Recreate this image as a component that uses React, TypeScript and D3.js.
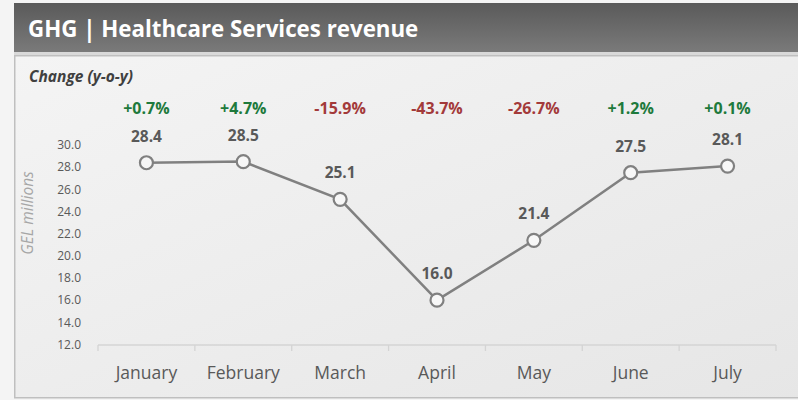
import * as d3 from 'd3';

const months = ['January', 'February', 'March', 'April', 'May', 'June', 'July'];
const revenue = [28.4, 28.5, 25.1, 16.0, 21.4, 27.5, 28.1];
const yoyChange = [0.7, 4.7, -15.9, -43.7, -26.7, 1.2, 0.1];
const yTicks = [12, 14, 16, 18, 20, 22, 24, 26, 28, 30];

const W = 798;
const H = 400;
const font = "'Segoe UI', 'Open Sans', 'Noto Sans', sans-serif";

export default function App() {
  const x = d3.scaleBand<string>().domain(months).range([98, 776]);
  const y = d3.scaleLinear().domain([12, 30]).range([344.5, 145]);
  const cx = (m: string) => (x(m) ?? 0) + x.bandwidth() / 2;

  const path = d3
    .line<number>()
    .x((_, i) => cx(months[i]))
    .y((d) => y(d))(revenue);

  return (
    <svg
      width={W}
      height={H}
      style={{ position: 'absolute', left: 0, top: 0, display: 'block' }}
      fontFamily={font}
    >
      <defs>
        <linearGradient id="hdr" x1="0" y1="0" x2="0" y2="1">
          <stop offset="0" stopColor="#5a5a5a" />
          <stop offset="1" stopColor="#7a7a7a" />
        </linearGradient>
        <linearGradient id="panel" x1="0" y1="0" x2="1" y2="1">
          <stop offset="0" stopColor="#f4f4f4" />
          <stop offset="1" stopColor="#e6e6e6" />
        </linearGradient>
      </defs>
      <rect width={W} height={H} fill="#f4f4f4" />
      <rect x={14} y={3} width={W - 14} height={49} fill="url(#hdr)" />
      <rect x={14} y={52} width={W - 14} height={3} fill="#d9d9d9" />
      <rect x={14.75} y={55.75} width={W} height={342} fill="url(#panel)" stroke="#bfbfbf" strokeWidth={1.5} />
      <text x={28} y={37} fill="#ffffff" fontSize={22.3} fontWeight="bold">
        GHG | Healthcare Services revenue
      </text>
      <text x={29} y={82} fill="#404040" fontSize={15.5} fontWeight="bold" fontStyle="italic">
        Change (y-o-y)
      </text>

      {/* y axis labels */}
      {yTicks.map((t) => (
        <text key={t} x={81} y={y(t)} dy="0.35em" textAnchor="end" fill="#595959" fontSize={12}>
          {t.toFixed(1)}
        </text>
      ))}
      <text
        transform={`translate(33,213) rotate(-90)`}
        textAnchor="middle"
        fill="#a6a6a6"
        fontSize={15.5}
        fontStyle="italic"
      >
        GEL millions
      </text>

      {/* x axis */}
      <line x1={98} x2={776} y1={345} y2={345} stroke="#d4d4d4" strokeWidth={1.3} />
      {[...months.map((m) => x(m) ?? 0), 776].map((p, i) => (
        <line key={i} x1={p} x2={p} y1={345} y2={351} stroke="#d4d4d4" strokeWidth={1.3} />
      ))}
      {months.map((m) => (
        <text key={m} x={cx(m)} y={379} textAnchor="middle" fill="#595959" fontSize={17.5}>
          {m}
        </text>
      ))}

      {/* series */}
      <path d={path ?? ''} fill="none" stroke="#808080" strokeWidth={2.5} />
      {revenue.map((v, i) => (
        <circle key={i} cx={cx(months[i])} cy={y(v)} r={6.5} fill="#f7f7f7" stroke="#808080" strokeWidth={2.2} />
      ))}
      {revenue.map((v, i) => (
        <text
          key={i}
          x={cx(months[i])}
          y={y(v) - 21}
          textAnchor="middle"
          fill="#595959"
          fontSize={15.5}
          fontWeight="bold"
        >
          {v.toFixed(1)}
        </text>
      ))}
      {yoyChange.map((c, i) => (
        <text
          key={i}
          x={cx(months[i])}
          y={114}
          textAnchor="middle"
          fill={c >= 0 ? '#1e7a3c' : '#a33a3a'}
          fontSize={16}
          fontWeight="bold"
        >
          {(c >= 0 ? '+' : '') + c.toFixed(1) + '%'}
        </text>
      ))}
    </svg>
  );
}
